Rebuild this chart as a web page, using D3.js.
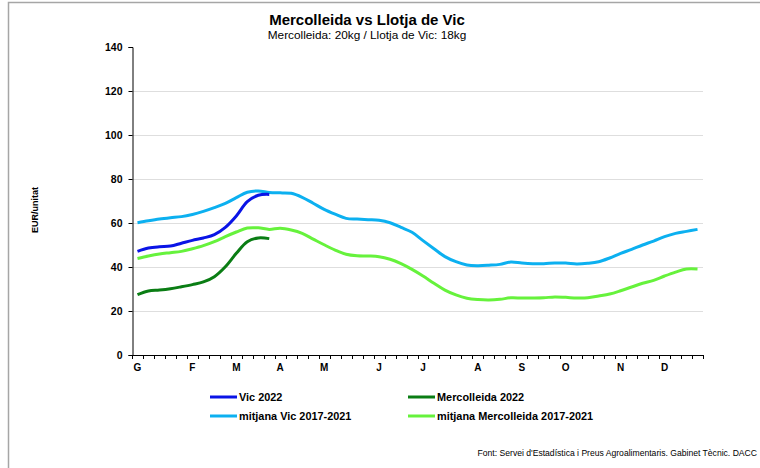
<!DOCTYPE html>
<html>
<head>
<meta charset="utf-8">
<script src="https://cdn.jsdelivr.net/npm/d3@7"></script>
<style>
  body { margin: 0; background: #fff; }
  svg { display: block; font-family: "Liberation Sans", Arial, sans-serif; }
</style>
</head>
<body>
<svg id="chart" width="760" height="468"></svg>
<script>
// 52 weekly categories, month initial under the first week of each month
const monthLabels = ['G', 'F', 'M', 'A', 'M', 'J', 'J', 'A', 'S', 'O', 'N', 'D']
const monthWeeks = [0, 5, 9, 13, 17, 22, 26, 31, 35, 39, 44, 48]
const yTicks = [0, 20, 40, 60, 80, 100, 120, 140]

const vic2022 = [47.1, 48.6, 49.2, 49.5, 50.8, 52.1, 53.2, 54.7, 58.0, 63.2, 69.7, 72.6, 73.0]
const merco2022 = [27.4, 29.1, 29.5, 30.1, 31.0, 32.0, 33.2, 35.6, 40.1, 46.2, 51.5, 53.2, 52.9]
const vicAvg = [
  60.1, 61.0, 61.8, 62.4, 62.9, 63.9, 65.3, 67.0, 68.9, 71.5, 74.0, 74.6, 73.9,
  73.7, 73.5, 71.7, 69.0, 66.2, 64.0, 62.1, 61.8, 61.5, 61.2, 60.1, 58.0, 55.8,
  52.0, 48.3, 44.7, 42.4, 40.9, 40.6, 40.8, 41.2, 42.3, 41.8, 41.5, 41.5, 41.8,
  41.8, 41.4, 41.7, 42.4, 44.1, 46.2, 48.0, 50.0, 51.8, 53.8, 55.3, 56.2, 57.1
]
const mercoAvg = [
  43.9, 45.0, 45.9, 46.5, 47.1, 48.3, 49.7, 51.5, 53.8, 55.9, 57.7, 57.8, 57.1,
  57.6, 56.8, 55.3, 52.7, 50.1, 47.7, 45.8, 45.1, 45.0, 44.7, 43.5, 41.5, 38.9,
  35.9, 32.6, 29.5, 27.3, 25.8, 25.2, 25.0, 25.3, 26.0, 25.9, 25.9, 26.0, 26.4,
  26.2, 25.9, 26.0, 26.8, 27.7, 29.2, 30.9, 32.6, 33.9, 35.9, 37.7, 39.1, 39.1
]

const series = [
  { name: 'Vic 2022', values: vic2022, color: '#0a14e6' },
  { name: 'Mercolleida 2022', values: merco2022, color: '#0a7d14' },
  { name: 'mitjana Vic 2017-2021', values: vicAvg, color: '#0cb0f0' },
  { name: 'mitjana Mercolleida 2017-2021', values: mercoAvg, color: '#66f23c' }
]
const drawOrder = [2, 3, 0, 1]

const svg = d3.select('#chart')

// outer frame
svg.append('path')
  .attr('d', 'M8.5,470V2.5H762')
  .attr('fill', 'none').attr('stroke', '#a6a6a6').attr('stroke-width', 1.5)

const plot = { left: 132, right: 703, top: 47, bottom: 355 }
const weeks = d3.range(52)
const x = d3.scaleBand().domain(weeks).range([plot.left, plot.right])
const y = d3.scaleLinear().domain([0, 140]).range([plot.bottom, plot.top])
const cx = i => x(i) + x.bandwidth() / 2

// gridlines
svg.append('g').selectAll('line')
  .data(yTicks.filter(d => d > 0 && d < 140))
  .join('line')
  .attr('x1', plot.left).attr('x2', plot.right)
  .attr('y1', d => Math.round(y(d)) + 0.5).attr('y2', d => Math.round(y(d)) + 0.5)
  .attr('stroke', '#dedede').attr('stroke-width', 1)

// y axis
const yAxis = svg.append('g').attr('transform', `translate(${plot.left + 0.5},0)`)
  .call(d3.axisLeft(y).tickValues(yTicks).tickSize(4).tickPadding(6))
yAxis.select('.domain').attr('stroke', '#000')
yAxis.selectAll('text').attr('font-size', 10.5).attr('font-weight', 'bold').attr('fill', '#000')
  .attr('font-family', '"Liberation Sans", Arial, sans-serif')

// x axis: ticks between weekly categories, labels centred on month weeks
const xa = svg.append('g')
xa.append('line').attr('x1', plot.left).attr('x2', plot.right + 1)
  .attr('y1', plot.bottom + 0.5).attr('y2', plot.bottom + 0.5).attr('stroke', '#000')
xa.selectAll('.tk').data(d3.range(53)).join('line').attr('class', 'tk')
  .attr('x1', i => Math.round(plot.left + i * x.step()) + 0.5)
  .attr('x2', i => Math.round(plot.left + i * x.step()) + 0.5)
  .attr('y1', plot.bottom).attr('y2', plot.bottom + 4).attr('stroke', '#000')
xa.selectAll('text').data(monthLabels).join('text')
  .attr('x', (d, i) => cx(monthWeeks[i]))
  .attr('y', plot.bottom + 16)
  .attr('text-anchor', 'middle')
  .attr('font-size', 10).attr('font-weight', 'bold')
  .text(d => d)

// y axis title
svg.append('text')
  .attr('transform', 'translate(38,210) rotate(-90)')
  .attr('text-anchor', 'middle')
  .attr('font-size', 9).attr('font-weight', 'bold')
  .text('EUR/unitat')

// lines
const line = d3.line()
  .x((d, i) => cx(i))
  .y(d => y(d))
  .curve(d3.curveCatmullRom.alpha(0.5))

svg.append('g').selectAll('path')
  .data(drawOrder.map(i => series[i]))
  .join('path')
  .attr('d', d => line(d.values))
  .attr('fill', 'none')
  .attr('stroke', d => d.color)
  .attr('stroke-width', 3)
  .attr('stroke-linejoin', 'round')

// titles
svg.append('text').attr('x', 367).attr('y', 25).attr('text-anchor', 'middle')
  .attr('font-size', 15).attr('font-weight', 'bold')
  .text('Mercolleida vs Llotja de Vic')
svg.append('text').attr('x', 367).attr('y', 39).attr('text-anchor', 'middle')
  .attr('font-size', 11.8)
  .text('Mercolleida: 20kg / Llotja de Vic: 18kg')

// legend
const legendPos = [[210, 397], [408, 397], [210, 416], [408, 416]]
const lg = svg.append('g').selectAll('g').data(series).join('g')
  .attr('transform', (d, i) => `translate(${legendPos[i][0]},${legendPos[i][1]})`)
lg.append('line').attr('x1', 0).attr('x2', 27).attr('stroke', d => d.color).attr('stroke-width', 3)
lg.append('text').attr('x', 29).attr('y', 4)
  .attr('font-size', 10.9).attr('font-weight', 'bold')
  .text(d => d.name)

// source
svg.append('text').attr('x', 757).attr('y', 456).attr('text-anchor', 'end')
  .attr('font-size', 8.6)
  .text("Font: Servei d'Estadística i Preus Agroalimentaris. Gabinet Tècnic. DACC")
</script>
</body>
</html>
